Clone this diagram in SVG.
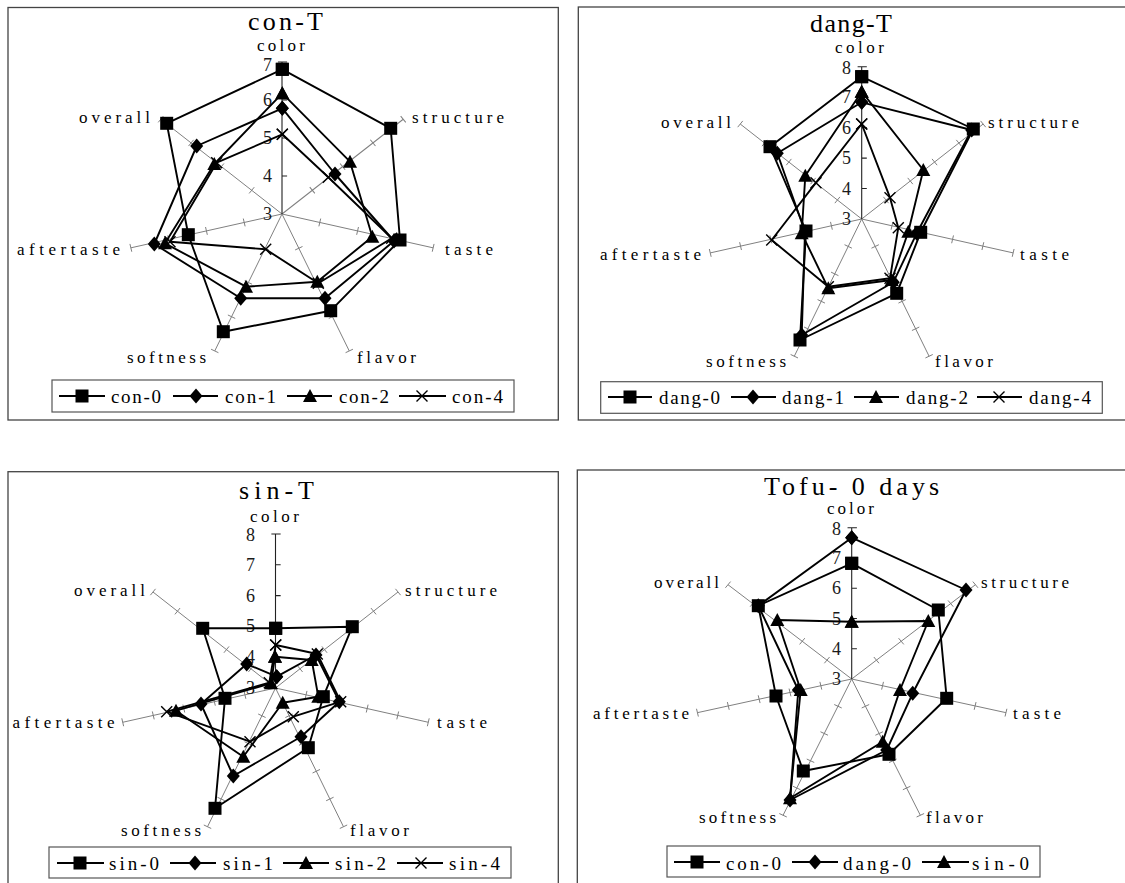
<svg xmlns="http://www.w3.org/2000/svg" width="1125" height="883" viewBox="0 0 1125 883">
<style>
text{font-family:"Liberation Serif","DejaVu Serif",serif;fill:#000}
.t{font-size:26px}
.a{font-size:17px}
.v{font-size:18px;text-anchor:end;fill:#1a1a1a}
.lg{font-size:19px}
.frame{fill:none;stroke:#444;stroke-width:1.3}
.lbox{fill:#fff;stroke:#555;stroke-width:1.2}
.spk{stroke:#808080;stroke-width:1;fill:none;vector-effect:non-scaling-stroke}
.vax{stroke:#222;stroke-width:1.1;fill:none;vector-effect:non-scaling-stroke}
.s{fill:none;stroke:#000;stroke-width:1.9;stroke-linejoin:round}
.sq{marker-start:url(#mSq);marker-mid:url(#mSq);marker-end:url(#mSq)}
.di{marker-start:url(#mDi);marker-mid:url(#mDi);marker-end:url(#mDi)}
.tr{marker-start:url(#mTr);marker-mid:url(#mTr);marker-end:url(#mTr)}
.xx{marker-start:url(#mX);marker-mid:url(#mX);marker-end:url(#mX)}
.lsq{marker-mid:url(#mSq)}
.ldi{marker-mid:url(#mDi)}
.ltr{marker-mid:url(#mTr)}
.lxx{marker-mid:url(#mX)}
</style>
<defs>
<marker id="mSq" markerUnits="userSpaceOnUse" markerWidth="18" markerHeight="18" viewBox="-9 -9 18 18" refX="0" refY="0" overflow="visible"><rect x="-6.5" y="-6.5" width="13" height="13" fill="#000"/></marker>
<marker id="mDi" markerUnits="userSpaceOnUse" markerWidth="18" markerHeight="18" viewBox="-9 -9 18 18" refX="0" refY="0" overflow="visible"><path d="M0 -7.5L6.5 0L0 7.5L-6.5 0Z" fill="#000"/></marker>
<marker id="mTr" markerUnits="userSpaceOnUse" markerWidth="18" markerHeight="18" viewBox="-9 -9 18 18" refX="0" refY="0" overflow="visible"><path d="M0 -7L7 6H-7Z" fill="#000"/></marker>
<marker id="mX" markerUnits="userSpaceOnUse" markerWidth="18" markerHeight="18" viewBox="-9 -9 18 18" refX="0" refY="0" overflow="visible"><path d="M-5.5 -5.5L5.5 5.5M5.5 -5.5L-5.5 5.5" stroke="#000" stroke-width="1.4" fill="none"/></marker>
<g id="spk4"><path class="spk" d="M0 0V-152M-4 -38H4M-4 -76H4M-4 -114H4M-4 -152H4"/></g>
<g id="spk5"><path class="spk" d="M0 0V-152M-4 -30.4H4M-4 -60.8H4M-4 -91.2H4M-4 -121.6H4M-4 -152H4"/></g>
<g id="vax4"><path class="vax" d="M0 0V-152M0 -38H5M0 -76H5M0 -114H5M-4 -152H5"/></g>
<g id="vax5"><path class="vax" d="M0 0V-152M0 -30.4H5M0 -60.8H5M0 -91.2H5M0 -121.6H5M-4 -152H5"/></g>
</defs>
<rect x="0" y="0" width="1125" height="883" fill="#fff"/>

<!-- Panel 1: con-T -->
<g id="panel-con-T">
<rect class="frame" x="8" y="7.5" width="550.3" height="412.5"/>
<g id="axes-con" transform="translate(282 214) scale(1.02 1)">
<use href="#spk4" transform="rotate(51.43)"/>
<use href="#spk4" transform="rotate(102.86)"/>
<use href="#spk4" transform="rotate(154.29)"/>
<use href="#spk4" transform="rotate(205.71)"/>
<use href="#spk4" transform="rotate(257.14)"/>
<use href="#spk4" transform="rotate(308.57)"/>
<use href="#vax4"/>
</g>
<g id="values-con">
<text class="v" x="272" y="220">3</text>
<text class="v" x="272" y="182">4</text>
<text class="v" x="272" y="144">5</text>
<text class="v" x="272" y="106">6</text>
<text class="v" x="272" y="71">7</text>
</g>
<text class="t" x="248" y="30" textLength="75" lengthAdjust="spacing">con-T</text>
<g id="labels-con">
<text class="a" x="257" y="51" textLength="48" lengthAdjust="spacing">color</text>
<text class="a" x="412" y="123" textLength="92" lengthAdjust="spacing">structure</text>
<text class="a" x="445" y="255" textLength="48" lengthAdjust="spacing">taste</text>
<text class="a" x="357" y="363" textLength="59" lengthAdjust="spacing">flavor</text>
<text class="a" x="127" y="363" textLength="79" lengthAdjust="spacing">softness</text>
<text class="a" x="17" y="255" textLength="103" lengthAdjust="spacing">aftertaste</text>
<text class="a" x="79" y="123" textLength="71" lengthAdjust="spacing">overall</text>
</g>
<g id="series-con">
<polygon class="s sq" points="282.3,69.3 390.7,128.3 400,240 330.7,310.7 223.3,331.7 188.3,234.7 166.7,123.3"/>
<polygon class="s di" points="282.3,108.3 335,174 394,241 325,298.3 240.7,298.3 154.3,244 196.7,146"/>
<polygon class="s tr" points="282.3,93.3 350,161.7 372.3,236.7 317.3,281.7 246,286.7 165,243.3 214.3,164"/>
<polygon class="s xx" points="282.3,134.3 328.3,177.3 391.7,238.3 318.3,283.3 265.7,249.3 170,241.7 216.7,162.7"/>
</g>
<g id="legend-con">
<rect class="lbox" x="52" y="380" width="462" height="32"/>
<path class="s lsq" d="M59 396H82H105"/>
<path class="s ldi" d="M173 396H196H218"/>
<path class="s ltr" d="M287 396H310H332"/>
<path class="s lxx" d="M399 396H422H446"/>
<text class="lg" x="111" y="403" textLength="50" lengthAdjust="spacing">con-0</text>
<text class="lg" x="225" y="403" textLength="51" lengthAdjust="spacing">con-1</text>
<text class="lg" x="339" y="403" textLength="50" lengthAdjust="spacing">con-2</text>
<text class="lg" x="452" y="403" textLength="51" lengthAdjust="spacing">con-4</text>
</g>
</g>

<!-- Panel 2: dang-T -->
<g id="panel-dang-T">
<rect class="frame" x="578.3" y="7" width="560" height="413"/>
<g id="axes-dang" transform="translate(861.7 219) scale(1.022 1.002)">
<use href="#spk5" transform="rotate(51.43)"/>
<use href="#spk5" transform="rotate(102.86)"/>
<use href="#spk5" transform="rotate(154.29)"/>
<use href="#spk5" transform="rotate(205.71)"/>
<use href="#spk5" transform="rotate(257.14)"/>
<use href="#spk5" transform="rotate(308.57)"/>
<use href="#vax5"/>
</g>
<g id="values-dang">
<text class="v" x="851" y="225">3</text>
<text class="v" x="851" y="194.5">4</text>
<text class="v" x="851" y="164.1">5</text>
<text class="v" x="851" y="133.6">6</text>
<text class="v" x="851" y="103.2">7</text>
<text class="v" x="851" y="73.5">8</text>
</g>
<text class="t" x="810" y="32" textLength="82" lengthAdjust="spacing">dang-T</text>
<g id="labels-dang">
<text class="a" x="835" y="53" textLength="49" lengthAdjust="spacing">color</text>
<text class="a" x="988" y="128" textLength="91" lengthAdjust="spacing">structure</text>
<text class="a" x="1020" y="260" textLength="49" lengthAdjust="spacing">taste</text>
<text class="a" x="935" y="367" textLength="58" lengthAdjust="spacing">flavor</text>
<text class="a" x="706" y="367" textLength="80" lengthAdjust="spacing">softness</text>
<text class="a" x="600" y="260" textLength="101" lengthAdjust="spacing">aftertaste</text>
<text class="a" x="661" y="128" textLength="70" lengthAdjust="spacing">overall</text>
</g>
<g id="series-dang">
<polygon class="s sq" points="861.7,76.7 973.3,129 920.7,232.3 896.7,293.3 800,340 806,231 770,146.7"/>
<polygon class="s di" points="861.7,102.3 971.7,130 916.7,233.3 893.3,282.3 801.7,335 805,231.7 777.3,153.3"/>
<polygon class="s tr" points="861.7,91.7 923.3,170 908.3,231.7 891.7,280 828.3,288.3 801.7,233.3 805.3,175.7"/>
<polygon class="s xx" points="861.7,124 890,197.7 898.3,227.7 890,278.3 828.3,286.7 771.7,240 816,182.7"/>
</g>
<g id="legend-dang">
<rect class="lbox" x="600.7" y="381.7" width="501.6" height="31.6"/>
<path class="s lsq" d="M608 397H630H652"/>
<path class="s ldi" d="M731 397H753H776"/>
<path class="s ltr" d="M854 397H876H899"/>
<path class="s lxx" d="M977 397H999H1022"/>
<text class="lg" x="659" y="404" textLength="61" lengthAdjust="spacing">dang-0</text>
<text class="lg" x="782" y="404" textLength="62" lengthAdjust="spacing">dang-1</text>
<text class="lg" x="906" y="404" textLength="62" lengthAdjust="spacing">dang-2</text>
<text class="lg" x="1029" y="404" textLength="62" lengthAdjust="spacing">dang-4</text>
</g>
</g>

<!-- Panel 3: sin-T -->
<g id="panel-sin-T">
<rect class="frame" x="8" y="471.7" width="550.3" height="420"/>
<g id="axes-sin" transform="translate(275.5 688) scale(1.031 1.013)">
<use href="#spk5" transform="rotate(51.43)"/>
<use href="#spk5" transform="rotate(102.86)"/>
<use href="#spk5" transform="rotate(154.29)"/>
<use href="#spk5" transform="rotate(205.71)"/>
<use href="#spk5" transform="rotate(257.14)"/>
<use href="#spk5" transform="rotate(308.57)"/>
<use href="#vax5"/>
</g>
<g id="values-sin">
<text class="v" x="255" y="694">3</text>
<text class="v" x="255" y="663.2">4</text>
<text class="v" x="255" y="632.4">5</text>
<text class="v" x="255" y="601.6">6</text>
<text class="v" x="255" y="570.8">7</text>
<text class="v" x="255" y="541">8</text>
</g>
<text class="t" x="239" y="499" textLength="75" lengthAdjust="spacing">sin-T</text>
<g id="labels-sin">
<text class="a" x="250" y="522" textLength="49" lengthAdjust="spacing">color</text>
<text class="a" x="405" y="596" textLength="92" lengthAdjust="spacing">structure</text>
<text class="a" x="437" y="728" textLength="50" lengthAdjust="spacing">taste</text>
<text class="a" x="350" y="836" textLength="59" lengthAdjust="spacing">flavor</text>
<text class="a" x="121" y="836" textLength="80" lengthAdjust="spacing">softness</text>
<text class="a" x="12.5" y="728" textLength="102" lengthAdjust="spacing">aftertaste</text>
<text class="a" x="74" y="596" textLength="71" lengthAdjust="spacing">overall</text>
</g>
<g id="series-sin">
<polygon class="s sq" points="275.7,628.3 352.3,626.7 323.3,696.7 308.3,747.7 215,808.3 225,698.3 202.7,628.3"/>
<polygon class="s di" points="276.7,676.7 316,655 339.3,701.7 301,736.7 233.3,776 201,704 246.7,664"/>
<polygon class="s tr" points="275,656.7 311.7,660 318.3,696.7 282.7,702.7 243.3,756.7 176,710.7 271,683.3"/>
<polygon class="s xx" points="275.7,645 317.3,654 340.7,701.7 293.3,716.7 250,741.7 166.7,711.7 269.3,682.7"/>
</g>
<g id="legend-sin">
<rect class="lbox" x="49" y="847" width="462" height="31"/>
<path class="s lsq" d="M57 863H80H104"/>
<path class="s ldi" d="M170 863H195H216"/>
<path class="s ltr" d="M283 863H306H329"/>
<path class="s lxx" d="M397 863H421H443"/>
<text class="lg" x="109" y="870" textLength="50" lengthAdjust="spacing">sin-0</text>
<text class="lg" x="223" y="870" textLength="50" lengthAdjust="spacing">sin-1</text>
<text class="lg" x="335" y="870" textLength="51" lengthAdjust="spacing">sin-2</text>
<text class="lg" x="449" y="870" textLength="51" lengthAdjust="spacing">sin-4</text>
</g>
</g>

<!-- Panel 4: Tofu- 0 days -->
<g id="panel-tofu-0">
<rect class="frame" x="577.3" y="470" width="560" height="420"/>
<g id="axes-tofu" transform="translate(851.7 679) scale(1.041 0.995)">
<use href="#spk5" transform="rotate(51.43)"/>
<use href="#spk5" transform="rotate(102.86)"/>
<use href="#spk5" transform="rotate(154.29)"/>
<use href="#spk5" transform="rotate(205.71)"/>
<use href="#spk5" transform="rotate(257.14)"/>
<use href="#spk5" transform="rotate(308.57)"/>
<use href="#vax5"/>
</g>
<g id="values-tofu">
<text class="v" x="841" y="685">3</text>
<text class="v" x="841" y="654.7">4</text>
<text class="v" x="841" y="624.5">5</text>
<text class="v" x="841" y="594.2">6</text>
<text class="v" x="841" y="564">7</text>
<text class="v" x="841" y="535">8</text>
</g>
<text class="t" x="764" y="495" textLength="175" lengthAdjust="spacing">Tofu- 0 days</text>
<g id="labels-tofu">
<text class="a" x="827" y="514" textLength="47" lengthAdjust="spacing">color</text>
<text class="a" x="981" y="588" textLength="88" lengthAdjust="spacing">structure</text>
<text class="a" x="1013" y="719" textLength="48" lengthAdjust="spacing">taste</text>
<text class="a" x="926" y="823" textLength="57" lengthAdjust="spacing">flavor</text>
<text class="a" x="699" y="823" textLength="77" lengthAdjust="spacing">softness</text>
<text class="a" x="593" y="719" textLength="96" lengthAdjust="spacing">aftertaste</text>
<text class="a" x="654" y="588" textLength="65" lengthAdjust="spacing">overall</text>
</g>
<g id="series-tofu">
<polygon class="s sq" points="851.7,563.3 938.3,610 946.7,698.3 889,754.3 803.3,771 776,696 758.3,605.7"/>
<polygon class="s di" points="851.7,537.7 966,590 912.7,693.3 886.7,750 790,800 798.3,690 758.3,605.7"/>
<polygon class="s tr" points="851.7,621.7 928.3,621 900,690 882.7,741.7 790,798.3 800.7,690 777.3,620"/>
</g>
<g id="legend-tofu">
<rect class="lbox" x="667" y="846" width="373" height="31"/>
<path class="s lsq" d="M674 862H697H720"/>
<path class="s ldi" d="M792 862H815H838"/>
<path class="s ltr" d="M922 862H944H969"/>
<text class="lg" x="726" y="870" textLength="55" lengthAdjust="spacing">con-0</text>
<text class="lg" x="843" y="870" textLength="68" lengthAdjust="spacing">dang-0</text>
<text class="lg" x="972" y="870" textLength="57" lengthAdjust="spacing">sin-0</text>
</g>
</g>
</svg>
